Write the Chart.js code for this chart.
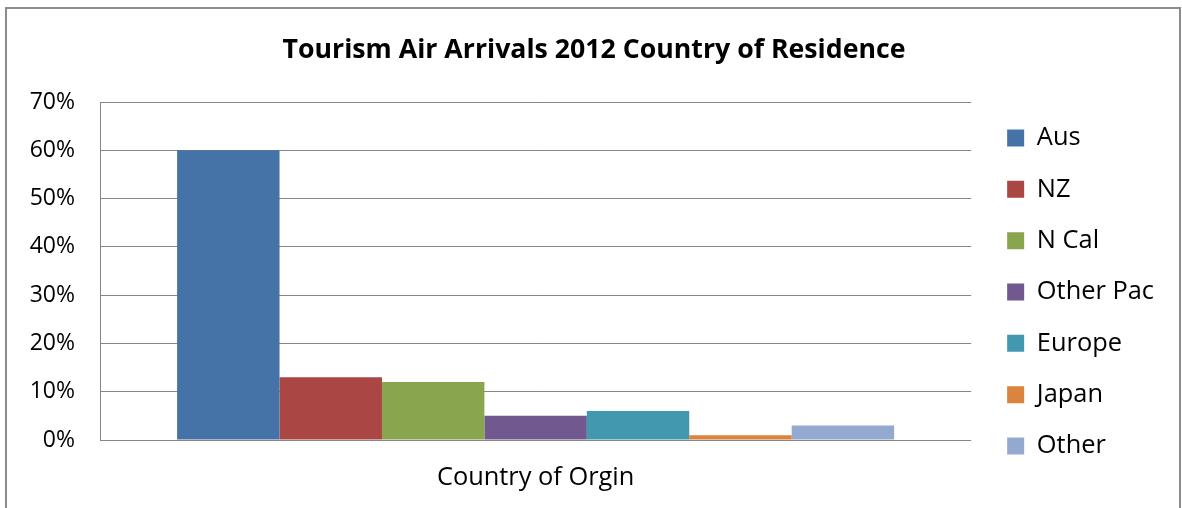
<!DOCTYPE html>
<html>
<head>
<meta charset="utf-8">
<script src="https://cdn.jsdelivr.net/npm/chart.js@4"></script>
<style>
  html, body { margin: 0; padding: 0; background: #ffffff; }
  #wrap { position: relative; width: 1182px; height: 508px; overflow: hidden; }
  #frame { position: absolute; left: 5px; top: 7px; width: 1176px; height: 520px; border: 2px solid #8c8c8c; box-sizing: border-box; pointer-events: none; }
  canvas { position: absolute; left: 0; top: 0; }
</style>
</head>
<body>
<div id="wrap">
  <canvas id="c" width="1182" height="508"></canvas>
  <div id="frame"></div>
</div>
<script>
const categories = ["Country of Orgin"];
const seriesNames = ["Aus", "NZ", "N Cal", "Other Pac", "Europe", "Japan", "Other"];
const seriesValues = [60, 13, 12, 5, 6, 1, 3];
const seriesColors = ["#4572A7", "#AA4643", "#89A54E", "#71588F", "#4198AF", "#DB843D", "#93A9CF"];
const yTicks = [0, 10, 20, 30, 40, 50, 60, 70];
const chartTitle = "Tourism Air Arrivals 2012 Country of Residence";

const FONT = "'Open Sans', sans-serif";

const datasets = seriesNames.map((name, i) => ({
  label: name,
  data: [seriesValues[i]],
  backgroundColor: seriesColors[i],
  borderWidth: 0,
  categoryPercentage: 0.823,
  barPercentage: 1.0
}));

new Chart(document.getElementById('c'), {
  type: 'bar',
  data: { labels: categories, datasets },
  options: {
    responsive: false,
    animation: false,
    devicePixelRatio: 1,
    layout: { padding: { left: 24, right: 18, top: 0, bottom: 0 } },
    plugins: {
      title: {
        display: true,
        text: chartTitle,
        color: '#000000',
        font: { family: FONT, size: 26.7, weight: 'bold' },
        padding: { top: 34, bottom: 36 }
      },
      legend: {
        display: true,
        position: 'right',
        align: 'start',
        title: { display: true, text: ' ', font: { size: 10 }, padding: { top: 87.4, bottom: 0 } },
        labels: {
          color: '#000000',
          font: { family: FONT, size: 25.4 },
          boxWidth: 17,
          boxHeight: 17,
          padding: 25.93
        }
      },
      tooltip: { enabled: false }
    },
    scales: {
      x: {
        grid: { display: false, drawTicks: false },
        border: { display: false },
        ticks: { color: '#000000', font: { family: FONT, size: 25.4 }, padding: 22.5 },
        afterFit: s => { s.height = 68; }
      },
      y: {
        min: 0,
        max: 70,
        afterBuildTicks: s => { s.ticks = yTicks.map(v => ({ value: v })); },
        grid: { color: '#868686', lineWidth: 1, drawTicks: false },
        border: { display: true, color: '#868686', width: 1 },
        ticks: { color: '#000000', font: { family: FONT, size: 23 }, padding: 25, callback: v => v + '%' },
        afterFit: s => { s.width = 76; }
      },
      y2: {
        position: 'right',
        display: true,
        grid: { display: false, drawTicks: false },
        border: { display: false },
        ticks: { display: false },
        afterFit: s => { s.width = 10; }
      }
    }
  }
});
</script>
</body>
</html>
